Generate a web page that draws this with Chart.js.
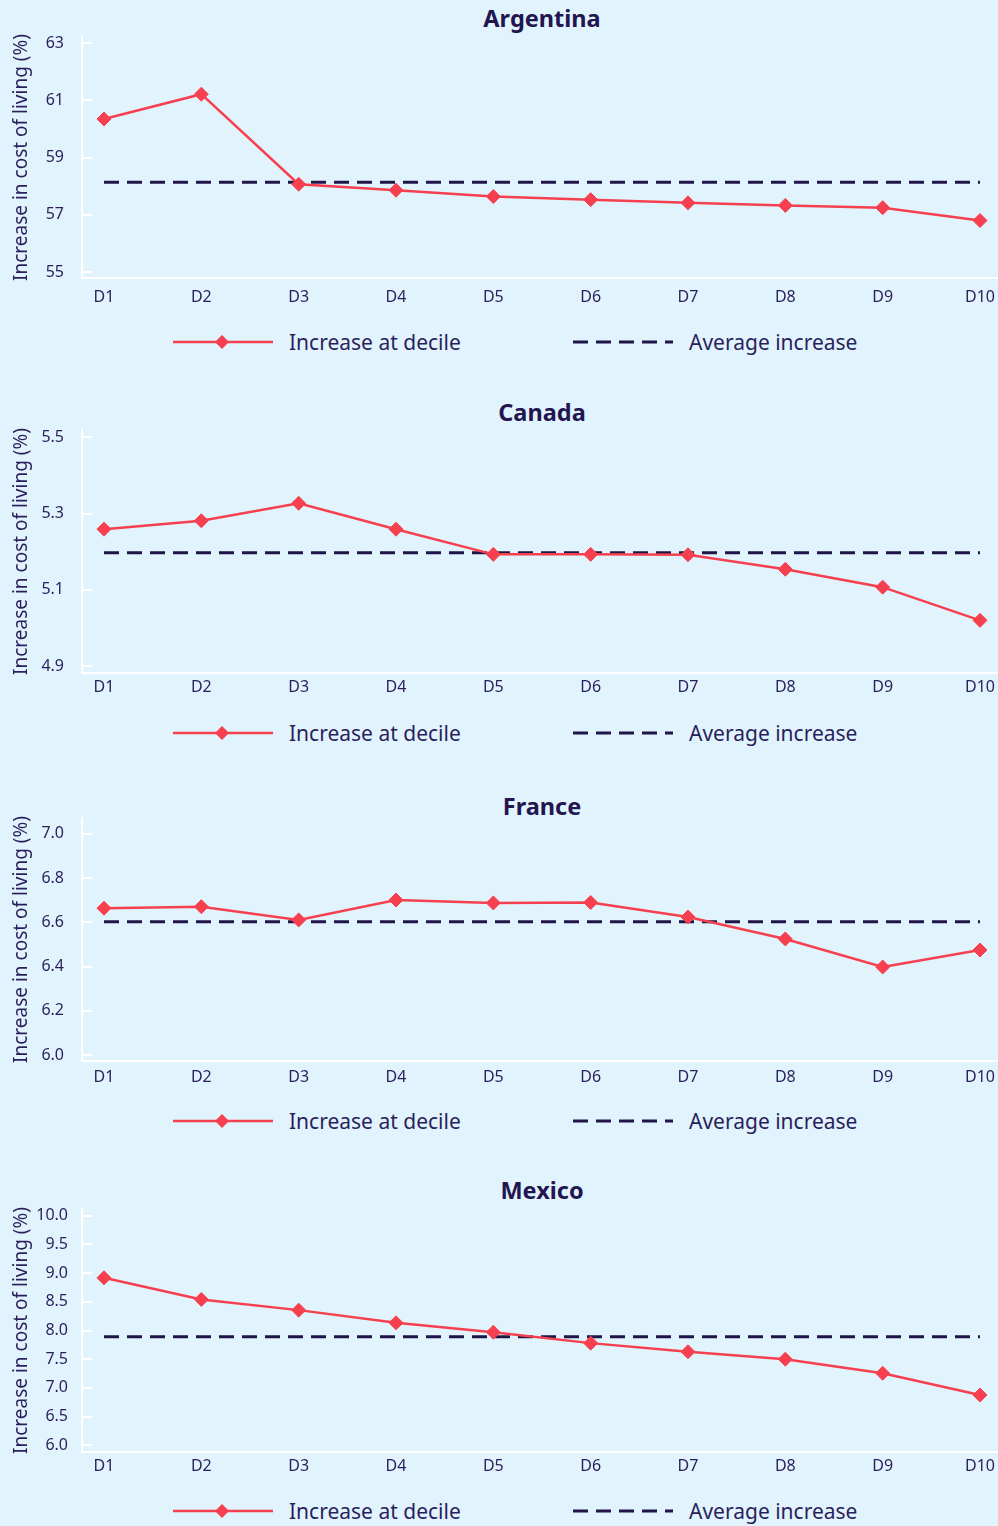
<!DOCTYPE html>
<html>
<head>
<meta charset="utf-8">
<script src="https://cdn.jsdelivr.net/npm/chart.js@4.4.1/dist/chart.umd.min.js"></script>
<style>
  body { margin: 0; background: #e1f3fc; font-family: "Noto Sans", sans-serif; }
  #page { position: relative; width: 998px; height: 1526px; overflow: hidden; }
  canvas { position: absolute; left: 0; }
  .chart-title { position: absolute; left: 86px; width: 912px; text-align: center;
                 font-size: 23.5px; font-weight: bold; line-height: 24px; color: #221550; }
  .legend-item { position: absolute; display: flex; align-items: center; height: 26px;
                 font-size: 21px; color: #2a1f5c; white-space: nowrap; }
  .legend-item svg { margin-right: 16px; }
</style>
</head>
<body>
<div id="page"></div>
<script>
// x categories
var deciles = ['D1', 'D2', 'D3', 'D4', 'D5', 'D6', 'D7', 'D8', 'D9', 'D10'];

// increase in cost of living at each decile (%)
var argentinaIncrease = [60.35, 61.22, 58.07, 57.86, 57.64, 57.53, 57.42, 57.33, 57.25, 56.80];
var canadaIncrease    = [5.259, 5.281, 5.327, 5.259, 5.193, 5.193, 5.192, 5.154, 5.107, 5.020];
var franceIncrease    = [6.664, 6.671, 6.611, 6.701, 6.688, 6.690, 6.624, 6.525, 6.398, 6.475];
var mexicoIncrease    = [8.918, 8.541, 8.355, 8.134, 7.970, 7.780, 7.630, 7.500, 7.255, 6.875];

// average increase
var argentinaAverage = 58.14;
var canadaAverage    = 5.197;
var franceAverage    = 6.603;
var mexicoAverage    = 7.89;

// y tick labels
var argentinaTicks = [55, 57, 59, 61, 63];
var canadaTicks    = [4.9, 5.1, 5.3, 5.5];
var franceTicks    = [6.0, 6.2, 6.4, 6.6, 6.8, 7.0];
var mexicoTicks    = [6.0, 6.5, 7.0, 7.5, 8.0, 8.5, 9.0, 9.5, 10.0];

var RED = '#f6404f';
var NAVY = '#1f1548';
var TEXT = '#2a1f5c';

var charts = [
  {title: 'Argentina', values: argentinaIncrease, avg: argentinaAverage, ticks: argentinaTicks, dec: 0,
   min: 54.79, max: 63.22, titleY: 18, areaTop: 37, areaBottom: 278, legendY: 342, labelPad: 28, xPad: 10},
  {title: 'Canada', values: canadaIncrease, avg: canadaAverage, ticks: canadaTicks, dec: 1,
   min: 4.882, max: 5.519, titleY: 412, areaTop: 430, areaBottom: 673, legendY: 733, labelPad: 28, xPad: 5},
  {title: 'France', values: franceIncrease, avg: franceAverage, ticks: franceTicks, dec: 1,
   min: 5.973, max: 7.072, titleY: 806, areaTop: 818, areaBottom: 1061, legendY: 1121, labelPad: 28, xPad: 6.5},
  {title: 'Mexico', values: mexicoIncrease, avg: mexicoAverage, ticks: mexicoTicks, dec: 1,
   min: 5.883, max: 10.117, titleY: 1190, areaTop: 1209, areaBottom: 1452, legendY: 1511, labelPad: 24, xPad: 5}
];

var page = document.getElementById('page');

function addLegend(y) {
  var a = document.createElement('div');
  a.className = 'legend-item';
  a.style.left = '173px';
  a.style.top = (y - 13) + 'px';
  a.innerHTML = '<svg width="100" height="20"><line x1="0" y1="10" x2="100" y2="10" stroke="' + RED +
    '" stroke-width="2.5"/><polygon points="42,10 49,3 56,10 49,17" fill="' + RED + '"/></svg>' +
    '<span>Increase at decile</span>';
  page.appendChild(a);
  var b = document.createElement('div');
  b.className = 'legend-item';
  b.style.left = '573px';
  b.style.top = (y - 13) + 'px';
  b.innerHTML = '<svg width="100" height="20"><line x1="0" y1="10" x2="100" y2="10" stroke="' + NAVY +
    '" stroke-width="3" stroke-dasharray="15 8"/></svg><span>Average increase</span>';
  page.appendChild(b);
}

charts.forEach(function(c) {
  var top = c.areaTop - 37;
  var height = c.areaBottom - top + 40;

  var t = document.createElement('div');
  t.className = 'chart-title';
  t.style.top = (c.titleY - 12) + 'px';
  t.textContent = c.title;
  page.appendChild(t);

  // chart.js keeps ~8px free on the right, so the canvas runs past the page edge
  var canvas = document.createElement('canvas');
  canvas.width = 1006;
  canvas.height = height;
  canvas.style.top = top + 'px';
  page.appendChild(canvas);

  new Chart(canvas, {
    type: 'line',
    data: {
      datasets: [{
        label: 'Increase at decile',
        data: c.values.map(function(v, i) { return {x: i, y: v}; }),
        borderColor: RED,
        backgroundColor: RED,
        borderWidth: 2.5,
        pointStyle: 'rectRot',
        pointRadius: 7,
        pointBorderWidth: 1,
        pointBackgroundColor: RED,
        pointBorderColor: RED,
        tension: 0
      }, {
        label: 'Average increase',
        data: deciles.map(function(d, i) { return {x: i, y: c.avg}; }),
        borderColor: NAVY,
        borderWidth: 3,
        borderDash: [15, 8],
        pointRadius: 0
      }]
    },
    options: {
      responsive: false,
      animation: false,
      layout: {padding: {top: 37, left: 0, right: 0, bottom: 0}},
      plugins: {
        legend: {display: false},
        tooltip: {enabled: false},
        title: {display: false}
      },
      scales: {
        x: {
          type: 'linear',
          min: -0.226,
          max: 9.185,
          afterBuildTicks: function(s) {
            s.ticks = deciles.map(function(d, i) { return {value: i}; });
          },
          afterFit: function(s) {
            s.height = 40;
            s.paddingLeft = 0;
            s.paddingRight = 0;
          },
          ticks: {
            callback: function(v) { return deciles[v]; },
            color: TEXT,
            font: {family: 'Noto Sans', size: 16},
            padding: c.xPad,
            maxRotation: 0,
            autoSkip: false
          },
          grid: {display: false, drawTicks: false},
          border: {display: true, color: '#ffffff', width: 2}
        },
        y: {
          min: c.min,
          max: c.max,
          afterBuildTicks: function(s) {
            s.ticks = c.ticks.map(function(v) { return {value: v}; });
          },
          afterFit: function(s) {
            s.width = 82;
            s.paddingTop = 0;
            s.paddingBottom = 0;
          },
          ticks: {
            callback: function(v) { return v.toFixed(c.dec); },
            color: TEXT,
            font: {family: 'Noto Sans', size: 16},
            padding: c.labelPad
          },
          grid: {
            display: true,
            drawOnChartArea: false,
            drawTicks: true,
            tickLength: -10,
            color: '#ffffff',
            lineWidth: 2
          },
          border: {display: true, color: '#ffffff', width: 2},
          title: {
            display: true,
            text: 'Increase in cost of living (%)',
            color: TEXT,
            font: {family: 'Noto Sans', size: 19},
            padding: {top: 10, bottom: 0}
          }
        }
      }
    }
  });

  addLegend(c.legendY);
});
</script>
</body>
</html>
